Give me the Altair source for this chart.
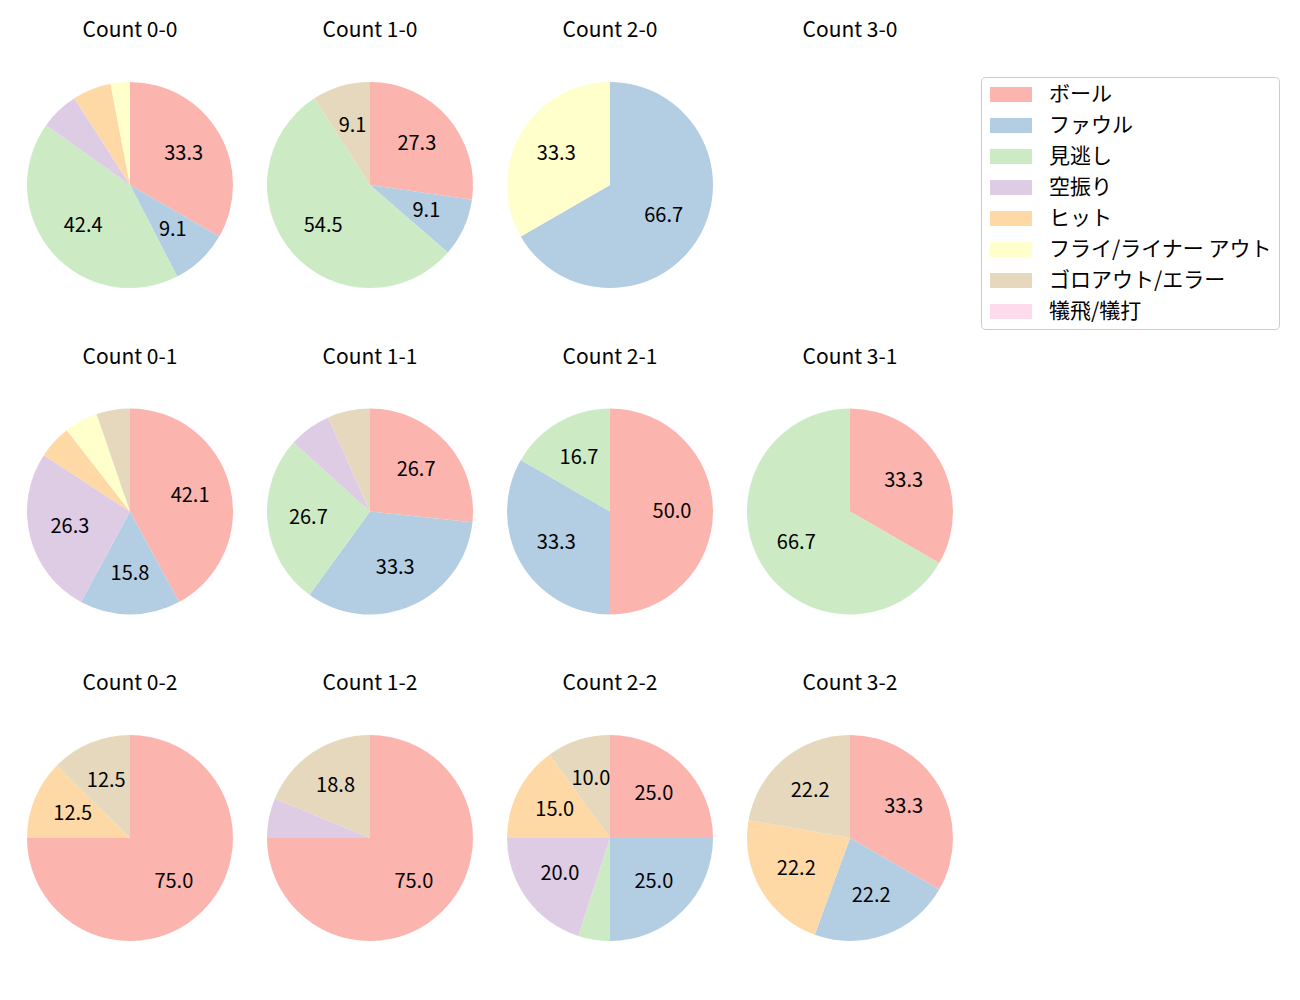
import altair as alt
import pandas as pd

FONT = "Noto Sans CJK JP"

categories = ["ボール", "ファウル", "見逃し", "空振り", "ヒット",
              "フライ/ライナー アウト", "ゴロアウト/エラー", "犠飛/犠打"]
colors = ["#fbb4ae", "#b3cde3", "#ccebc5", "#decbe4", "#fed9a6",
          "#ffffcc", "#e5d8bd", "#fddaec"]

grid_counts = [["0-0", "1-0", "2-0", "3-0"],
               ["0-1", "1-1", "2-1", "3-1"],
               ["0-2", "1-2", "2-2", "3-2"]]

# pitches per category (order of `categories`) for each ball-strike count
c_0_0 = [11, 3, 14, 2, 2, 1, 0, 0]
c_1_0 = [3, 1, 6, 0, 0, 0, 1, 0]
c_2_0 = [0, 2, 0, 0, 0, 1, 0, 0]
c_3_0 = [0, 0, 0, 0, 0, 0, 0, 0]
c_0_1 = [8, 3, 0, 5, 1, 1, 1, 0]
c_1_1 = [4, 5, 4, 1, 0, 0, 1, 0]
c_2_1 = [3, 2, 1, 0, 0, 0, 0, 0]
c_3_1 = [1, 0, 2, 0, 0, 0, 0, 0]
c_0_2 = [6, 0, 0, 0, 1, 0, 1, 0]
c_1_2 = [12, 0, 0, 1, 0, 0, 3, 0]
c_2_2 = [5, 5, 1, 4, 3, 0, 2, 0]
c_3_2 = [3, 2, 0, 0, 2, 0, 2, 0]

series = {"0-0": c_0_0, "1-0": c_1_0, "2-0": c_2_0, "3-0": c_3_0,
          "0-1": c_0_1, "1-1": c_1_1, "2-1": c_2_1, "3-1": c_3_1,
          "0-2": c_0_2, "1-2": c_1_2, "2-2": c_2_2, "3-2": c_3_2}

rows = []
for cnt, vals in series.items():
    total = sum(vals)
    for i, (cat, v) in enumerate(zip(categories, vals)):
        if v <= 0:
            continue
        pct = 100.0 * v / total
        rows.append({"count": cnt, "cat": cat, "idx": i, "pct": pct,
                     "label": f"{pct:.1f}" if pct >= 8 else ""})
df = pd.DataFrame(rows)

color_enc = alt.Color("cat:N",
                      scale=alt.Scale(domain=categories, range=colors),
                      title=None)
theta_enc = alt.Theta("pct:Q", stack=True, scale=alt.Scale(domain=[0, 100]))


def panel(cnt):
    base = alt.Chart(df).transform_filter(alt.datum["count"] == cnt)
    arcs = base.mark_arc(outerRadius=103).encode(
        theta=theta_enc, color=color_enc, order=alt.Order("idx:Q"))
    texts = base.mark_text(radius=62, fontSize=20, font=FONT, color="black").encode(
        theta=theta_enc, text="label:N", order=alt.Order("idx:Q"))
    return alt.layer(arcs, texts).properties(
        width=220, height=220, title=f"Count {cnt}")


rows_charts = [alt.hconcat(*[panel(c) for c in r], spacing=20) for r in grid_counts]
chart = alt.vconcat(*rows_charts, spacing=51.5).properties(
    padding={"left": 12, "top": 12, "right": 5, "bottom": 5}
).configure_view(stroke=None).configure_title(
    font=FONT, fontSize=21, fontWeight="normal", color="black",
    anchor="middle", offset=34
).configure_legend(
    orient="none", legendX=961, legendY=2,
    labelFont=FONT, labelFontSize=21, labelColor="black", labelLimit=400,
    symbolType="M-1,-0.882H3.94V0.882H-1Z", symbolSize=289, symbolStrokeWidth=0,
    labelOffset=40, rowPadding=9, padding=7,
    strokeColor="#cccccc", fillColor="white", cornerRadius=4
)

chart.save("out.html", embed_options={"renderer": "svg", "actions": False})
